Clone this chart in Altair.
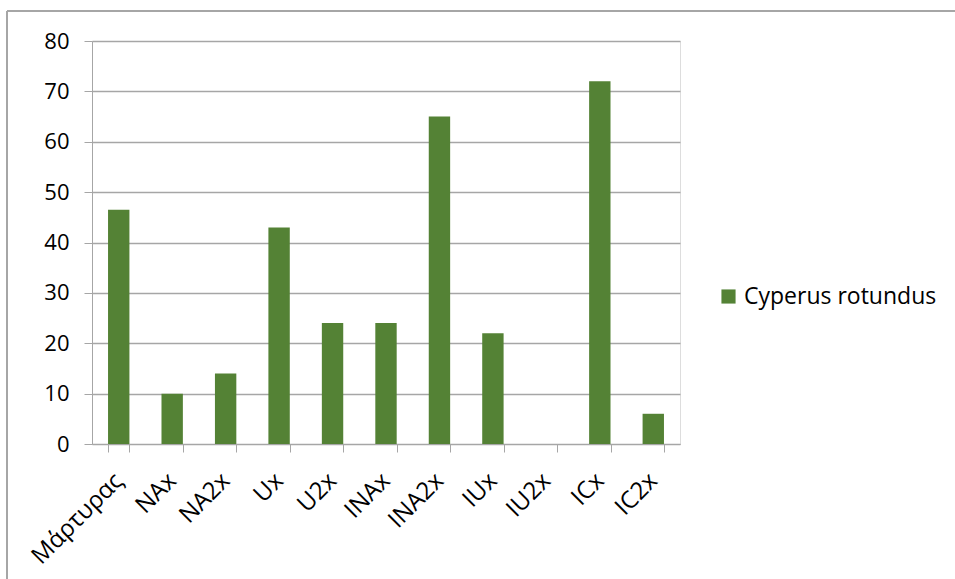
import altair as alt
import pandas as pd

categories = ["Μάρτυρας", "NAx", "NA2x", "Ux", "U2x", "INAx", "INA2x", "IUx", "IU2x", "ICx", "IC2x"]
values = [46.5, 10, 14, 43, 24, 24, 65, 22, 0, 72, 6]
series_name = "Cyperus rotundus"

df = pd.DataFrame({"cat": categories, "val": values, "series": [series_name] * len(categories)})

FONT = "Open Sans"
GREEN = "#548235"
GRAY = "#a6a6a6"

bars = alt.Chart(df).mark_bar(color=GREEN).encode(
    x=alt.X("cat:N", sort=categories, title=None,
            scale=alt.Scale(paddingInner=0.6, paddingOuter=0.3),
            axis=alt.Axis(labelAngle=-45, labelAlign="right", labelBaseline="middle",
                          labelFontSize=24, labelFont=FONT, labelColor="#000000",
                          domainColor=GRAY, tickColor=GRAY, tickSize=8, tickBand="extent",
                          labelPadding=25, labelOffset=0, grid=False)),
    y=alt.Y("val:Q", title=None,
            scale=alt.Scale(domain=[0, 80], nice=False),
            axis=alt.Axis(values=[0, 10, 20, 30, 40, 50, 60, 70, 80], labelFontSize=22, labelFont=FONT,
                          labelColor="#000000", domainColor=GRAY, tickColor=GRAY, tickSize=8,
                          gridColor=GRAY, gridWidth=1.3, labelPadding=15)),
    fill=alt.Fill("series:N", scale=alt.Scale(range=[GREEN]),
                  legend=alt.Legend(title=None, orient="none", legendX=625, legendY=244,
                                    symbolType="square", symbolSize=200, labelFontSize=23,
                                    labelFont=FONT, labelColor="#000000", symbolStrokeWidth=0,
                                    labelLimit=0)),
)

top_border = alt.Chart(df).mark_rule(color=GRAY, strokeWidth=1.5).encode(
    x=alt.value(-85), x2=alt.value(880), y=alt.value(-30))
left_border = alt.Chart(df).mark_rule(color=GRAY, strokeWidth=1.5).encode(
    x=alt.value(-85), y=alt.value(-30), y2=alt.value(560))

chart = alt.layer(bars, top_border, left_border).properties(
    width=588, height=403,
    autosize=alt.AutoSizeParams(type="none"),
    padding={"left": 92, "top": 41, "right": 275, "bottom": 135},
).configure_view(stroke=None).configure(background="white")

chart.save("out.html", embed_options={"renderer": "svg", "actions": False})
